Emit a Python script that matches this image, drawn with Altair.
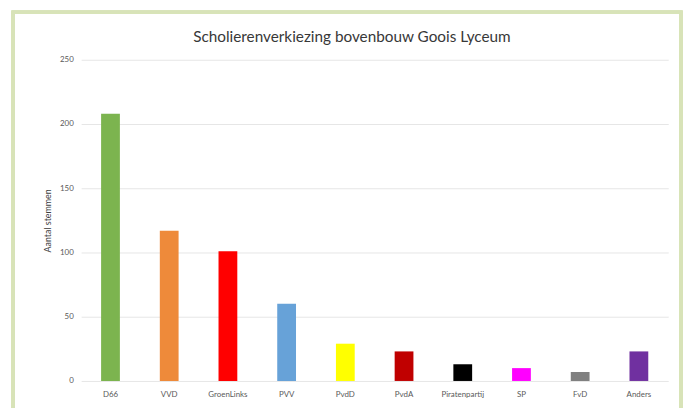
import altair as alt
import pandas as pd

parties = ["D66", "VVD", "GroenLinks", "PVV", "PvdD", "PvdA", "Piratenpartij", "SP", "FvD", "Anders"]
votes = [208, 117, 101, 60, 29, 23, 13, 10, 7, 23]
colors = ["#7cb44f", "#ee8a3a", "#ff0000", "#67a2d8", "#ffff00", "#c00000", "#000000", "#ff00ff", "#808080", "#7030a0"]
y_ticks = [0, 50, 100, 150, 200, 250]
title_text = "Scholierenverkiezing bovenbouw Goois Lyceum"

df = pd.DataFrame({"party": parties, "votes": votes})

bars = alt.Chart(df).mark_bar(size=19).encode(
    x=alt.X("party:N", sort=parties, title=None,
            scale=alt.Scale(paddingInner=0.68, paddingOuter=0.34),
            axis=alt.Axis(labelAngle=0, domain=False, ticks=False, labelFontSize=8,
                          labelColor="#595959", labelPadding=10, labelFont="Lato")),
    y=alt.Y("votes:Q", title="Aantal stemmen",
            scale=alt.Scale(domain=[0, 250]),
            axis=alt.Axis(values=y_ticks, domain=False, ticks=False, labelFontSize=8,
                          labelColor="#595959", labelPadding=8, labelFont="Lato",
                          gridColor="#e6e6e6", gridWidth=1,
                          titleFontSize=9, titleFont="Lato", titleFontWeight="normal",
                          titleColor="#404040", titlePadding=7)),
    color=alt.Color("party:N", scale=alt.Scale(domain=parties, range=colors), legend=None),
)

frame = alt.Chart(df).mark_rect(fill=None, stroke="#d8e3b8", strokeWidth=3).encode(
    x=alt.value(-69), x2=alt.value(607), y=alt.value(-48), y2=alt.value(380)
)

title = alt.Chart(pd.DataFrame({"t": [title_text]})).mark_text(
    font="Lato", fontSize=15.5, color="#383838", align="center", baseline="middle"
).encode(text="t:N", x=alt.value(274), y=alt.value(-23))

chart = alt.layer(frame, bars, title).properties(
    width=594, height=325,
    autosize=alt.AutoSizeParams(type="none"),
    padding={"left": 74, "top": 50, "right": 20, "bottom": 25},
).configure_view(stroke=None)

chart.save("out.html", embed_options={"renderer": "svg", "actions": False})
